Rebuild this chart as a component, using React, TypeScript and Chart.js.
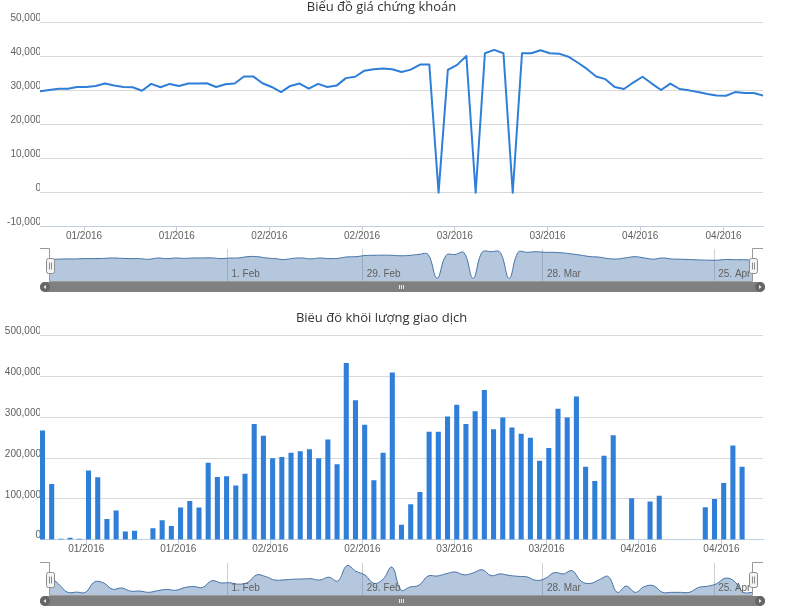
import React, { useEffect, useRef } from 'react';
import { Chart, registerables } from 'chart.js';

Chart.register(...registerables);

// Trading sessions (ordinal x axis: one slot per session)
const dates: string[] = [
  '2016-01-04', '2016-01-05', '2016-01-06', '2016-01-07', '2016-01-08',
  '2016-01-11', '2016-01-12', '2016-01-13', '2016-01-14', '2016-01-15',
  '2016-01-18', '2016-01-19', '2016-01-20', '2016-01-21', '2016-01-22',
  '2016-01-25', '2016-01-26', '2016-01-27', '2016-01-28', '2016-01-29',
  '2016-02-01', '2016-02-02', '2016-02-03', '2016-02-04', '2016-02-05',
  '2016-02-15', '2016-02-16', '2016-02-17', '2016-02-18', '2016-02-19',
  '2016-02-22', '2016-02-23', '2016-02-24', '2016-02-25', '2016-02-26',
  '2016-02-29', '2016-03-01', '2016-03-02', '2016-03-03', '2016-03-04',
  '2016-03-07', '2016-03-08', '2016-03-09', '2016-03-10', '2016-03-11',
  '2016-03-14', '2016-03-15', '2016-03-16', '2016-03-17', '2016-03-18',
  '2016-03-21', '2016-03-22', '2016-03-23', '2016-03-24', '2016-03-25',
  '2016-03-28', '2016-03-29', '2016-03-30', '2016-03-31', '2016-04-01',
  '2016-04-04', '2016-04-05', '2016-04-06', '2016-04-07', '2016-04-08',
  '2016-04-11', '2016-04-12', '2016-04-13', '2016-04-14', '2016-04-15',
  '2016-04-19', '2016-04-20', '2016-04-21', '2016-04-22',
  '2016-04-25', '2016-04-26', '2016-04-27', '2016-04-28', '2016-04-29',
];

const price: number[] = [
  29800, 30200, 30600, 30600, 31100, 31100, 31400, 32100, 31500, 31100,
  31000, 30000, 32000, 31000, 32000, 31400, 32100, 32100, 32200, 31100,
  31900, 32100, 34200, 34200, 32200, 31100, 29600, 31400, 32100, 30600,
  32000, 31100, 31500, 33700, 34100, 35900, 36300, 36500, 36300, 35500,
  36200, 37700, 37700, 0, 36100, 37600, 40200, 0, 41000, 42000,
  41000, 0, 41000, 41000, 41900, 41000, 40900, 40000, 38300, 36400,
  34200, 33400, 31100, 30500, 32400, 34100, 32100, 30200, 32100, 30500,
  30100, 29600, 29000, 28600, 28500, 29600, 29300, 29300, 28600,
];

const volume: number[] = [
  267000, 136000, 1500, 4000, 1500, 169000, 152000, 50000, 71000, 19000,
  21000, 0, 27000, 47000, 33000, 78000, 94000, 78000, 188000, 153000,
  155000, 132000, 161000, 283000, 254000, 199000, 202000, 212000, 216000, 221000,
  199000, 245000, 184000, 432000, 341000, 281000, 145000, 212000, 409000, 36000,
  86000, 116000, 264000, 264000, 301000, 330000, 283000, 314000, 366000, 270000,
  299000, 274000, 259000, 249000, 193000, 224000, 320000, 299000, 350000, 178000,
  143000, 205000, 255000, 0, 101000, 0, 93000, 107000, 0, 0,
  0, 0, 79000, 99000, 138000, 230000, 178000, 0, 0,
];

const mainTickDates: string[] = [
  '2016-01-11', '2016-01-25', '2016-02-15', '2016-02-29',
  '2016-03-14', '2016-03-28', '2016-04-11', '2016-04-25',
];
const mainTickLabels: string[] = [
  '01/2016', '01/2016', '02/2016', '02/2016', '03/2016', '03/2016', '04/2016', '04/2016',
];
const navTickDates: string[] = ['2016-02-01', '2016-02-29', '2016-03-28', '2016-04-25'];
const navTickLabels: string[] = ['1. Feb', '29. Feb', '28. Mar', '25. Apr'];

const priceTitle = 'Biểu đồ giá chứng khoán';
const volumeTitle = 'Biểu đồ khối lượng giao dịch';

// ticks sit at midnight, just before the session slot
const tickPos = (d: string) => dates.indexOf(d) - 0.25;
const fmt = (v: any) => Number(v).toLocaleString('en-US');

const AXIS_FONT = { family: "'Liberation Sans', Arial, sans-serif", size: 10 };
const MAIN_H = 246;
const PLOT_BOTTOM = 226.7;
const NAV_H = 55;
const NAV_TOP = 5;
const NAV_HEIGHT = 32;

function mainConfig(kind: 'price' | 'volume'): any {
  const isPrice = kind === 'price';
  const last = dates.length - 1;
  const dataset: any = isPrice
    ? {
        type: 'line',
        data: price.map((y, i) => ({ x: i, y })),
        borderColor: '#2f7ed8',
        borderWidth: 2,
        pointRadius: 0,
        fill: false,
        tension: 0,
        borderJoinStyle: 'round',
        borderCapStyle: 'round',
      }
    : {
        type: 'bar',
        data: volume.map((y, i) => ({ x: i, y: y === 0 ? null : y })),
        backgroundColor: '#2f7ed8',
        borderWidth: 0,
        barThickness: 4.4,
      };
  return {
    type: isPrice ? 'line' : 'bar',
    data: { datasets: [dataset] },
    options: {
      responsive: false,
      animation: false,
      events: [],
      layout: { padding: { top: 0, right: 7, left: 0, bottom: 0 } },
      plugins: {
        legend: { display: false },
        tooltip: { enabled: false },
        title: {
          display: true,
          text: isPrice ? priceTitle : volumeTitle,
          color: '#333333',
          font: { family: "'Open Sans', sans-serif", size: 13, weight: 'normal' },
          padding: isPrice ? { top: -1, bottom: 8.1 } : { top: -2.5, bottom: 9.6 },
        },
      },
      scales: {
        x: {
          type: 'linear',
          min: isPrice ? 0 : -0.27,
          max: isPrice ? last : last + 0.27,
          offset: false,
          afterBuildTicks: (s: any) => {
            s.ticks = mainTickDates.map((d) => ({ value: tickPos(d) }));
          },
          afterFit: (s: any) => {
            s.height = MAIN_H - PLOT_BOTTOM;
          },
          grid: {
            offset: false,
            drawOnChartArea: false,
            drawTicks: true,
            tickLength: 4,
            color: '#C0D0E0',
          },
          border: { display: true, color: '#C0D0E0' },
          ticks: {
            autoSkip: false,
            maxRotation: 0,
            minRotation: 0,
            padding: 0,
            color: '#606060',
            font: AXIS_FONT,
            callback: (_v: any, i: number) => mainTickLabels[i],
          },
        },
        y: {
          type: 'linear',
          min: isPrice ? -10000 : 0,
          max: isPrice ? 50000 : 500000,
          afterFit: (s: any) => {
            s.width = 40;
          },
          grid: { color: '#d9d9d9', drawTicks: false },
          border: { display: false },
          ticks: {
            stepSize: isPrice ? 10000 : 100000,
            padding: -1,
            labelOffset: -4,
            color: '#606060',
            font: AXIS_FONT,
            callback: (v: any) => fmt(v),
          },
        },
      },
    },
  };
}

const navExtras = {
  id: 'navExtras',
  afterDraw(chart: any) {
    const { ctx, chartArea } = chart;
    const L = chartArea.left;
    const R = chartArea.right;
    const T = chartArea.top;
    const B = chartArea.bottom;
    const X0 = 40;
    const X1 = 763;
    ctx.save();
    // outline
    ctx.strokeStyle = '#9a9a9a';
    ctx.lineWidth = 1;
    ctx.beginPath();
    ctx.moveTo(X0, T - 0.5);
    ctx.lineTo(L, T - 0.5);
    ctx.lineTo(L, B + 0.5);
    ctx.lineTo(R, B + 0.5);
    ctx.lineTo(R, T - 0.5);
    ctx.lineTo(X1, T - 0.5);
    ctx.stroke();

    // handles
    const cy = (T + B) / 2;
    const drawHandle = (x: number) => {
      const w = 8;
      const h = 15;
      const hx = Math.round(x - w / 2) + 0.5;
      const hy = Math.round(cy - h / 2) + 0.5;
      ctx.beginPath();
      ctx.roundRect(hx, hy, w, h, 2);
      ctx.fillStyle = '#f4f4f4';
      ctx.fill();
      ctx.strokeStyle = '#8c8c8c';
      ctx.stroke();
      ctx.beginPath();
      ctx.moveTo(hx + 3, hy + 4);
      ctx.lineTo(hx + 3, hy + h - 4);
      ctx.moveTo(hx + 5, hy + 4);
      ctx.lineTo(hx + 5, hy + h - 4);
      ctx.stroke();
    };
    drawHandle(L);
    drawHandle(R);

    // scrollbar
    const sy = B + 1;
    const sh = 10;
    const scy = sy + sh / 2;
    ctx.fillStyle = '#808080';
    ctx.beginPath();
    ctx.roundRect(X0, sy, X1 - X0 + 2, sh, sh / 2);
    ctx.fill();
    ctx.fillStyle = '#666666';
    ctx.beginPath();
    ctx.arc(X0 + 5, scy, 5, 0, Math.PI * 2);
    ctx.fill();
    ctx.beginPath();
    ctx.arc(X1 - 3, scy, 5, 0, Math.PI * 2);
    ctx.fill();
    ctx.fillStyle = '#eeeeee';
    ctx.beginPath();
    ctx.moveTo(X0 + 3.5, scy);
    ctx.lineTo(X0 + 6, scy - 2);
    ctx.lineTo(X0 + 6, scy + 2);
    ctx.closePath();
    ctx.fill();
    ctx.beginPath();
    ctx.moveTo(X1 - 1.5, scy);
    ctx.lineTo(X1 - 4, scy - 2);
    ctx.lineTo(X1 - 4, scy + 2);
    ctx.closePath();
    ctx.fill();
    // grip
    const gx = Math.round((L + R) / 2) + 0.5;
    ctx.strokeStyle = '#e6e6e6';
    ctx.beginPath();
    for (const dx of [-2, 0, 2]) {
      ctx.moveTo(gx + dx, scy - 2);
      ctx.lineTo(gx + dx, scy + 2);
    }
    ctx.stroke();
    ctx.restore();
  },
};

function navConfig(series: number[]): any {
  const dMin = Math.min(...series);
  const dMax = Math.max(...series);
  const pad = (dMax - dMin) * 0.1;
  return {
    type: 'line',
    data: {
      datasets: [
        {
          data: series.map((y, i) => ({ x: i, y })),
          fill: 'start',
          backgroundColor: 'rgba(69,114,167,0.4)',
          borderColor: '#4572A7',
          borderWidth: 1,
          pointRadius: 0,
          tension: 0.4,
        },
      ],
    },
    options: {
      responsive: false,
      animation: false,
      events: [],
      layout: { padding: { top: NAV_TOP, left: 49.5, right: 770 - 752.5, bottom: 0 } },
      plugins: {
        legend: { display: false },
        tooltip: { enabled: false },
        title: { display: false },
      },
      scales: {
        x: {
          type: 'linear',
          min: 0,
          max: dates.length - 1,
          afterBuildTicks: (s: any) => {
            s.ticks = navTickDates.map((d) => ({ value: tickPos(d) }));
          },
          afterFit: (s: any) => {
            s.height = NAV_H - NAV_TOP - NAV_HEIGHT;
          },
          grid: { color: '#d0d0d0', drawTicks: false },
          border: { display: false },
          ticks: {
            autoSkip: false,
            mirror: true,
            maxRotation: 0,
            minRotation: 0,
            align: 'start',
            labelOffset: 4,
            padding: 0.5,
            z: 1,
            color: '#606060',
            font: AXIS_FONT,
            callback: (_v: any, i: number) => navTickLabels[i],
          },
        },
        y: { display: false, min: dMin - pad, max: dMax + pad },
      },
    },
    plugins: [navExtras],
  };
}

export default function App() {
  const c1 = useRef<HTMLCanvasElement>(null);
  const c2 = useRef<HTMLCanvasElement>(null);
  const c3 = useRef<HTMLCanvasElement>(null);
  const c4 = useRef<HTMLCanvasElement>(null);

  useEffect(() => {
    const charts = [
      new Chart(c1.current as HTMLCanvasElement, mainConfig('price')),
      new Chart(c2.current as HTMLCanvasElement, navConfig(price)),
      new Chart(c3.current as HTMLCanvasElement, mainConfig('volume')),
      new Chart(c4.current as HTMLCanvasElement, navConfig(volume)),
    ];
    return () => charts.forEach((c) => c.destroy());
  }, []);

  const abs = (top: number): React.CSSProperties => ({ position: 'absolute', left: 0, top });
  return (
    <div style={{ position: 'absolute', left: 0, top: 0, width: 800, height: 613, overflow: 'hidden', background: '#fff' }}>
      <canvas ref={c1} width={770} height={MAIN_H} style={abs(0)} />
      <canvas ref={c2} width={770} height={NAV_H} style={abs(244)} />
      <canvas ref={c3} width={770} height={MAIN_H} style={abs(313)} />
      <canvas ref={c4} width={770} height={NAV_H} style={abs(558)} />
    </div>
  );
}
